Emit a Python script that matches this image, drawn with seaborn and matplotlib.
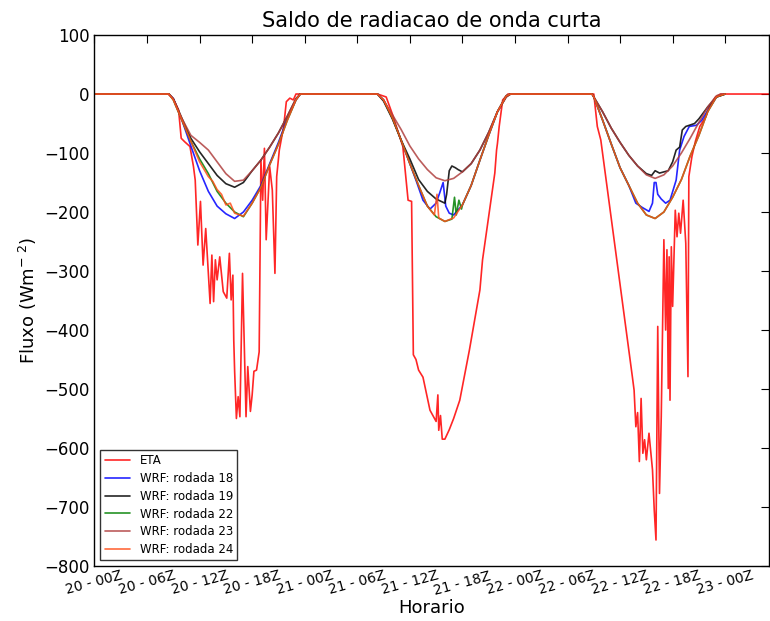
import matplotlib
matplotlib.use("Agg")
import matplotlib.pyplot as plt
import seaborn as sns
import pandas as pd

# ---------------- data (hours since 20-00Z, W/m2) ----------------
tick_hours = [0, 6, 12, 18, 24, 30, 36, 42, 48, 54, 60, 66, 72]
tick_labels = ['20 - 00Z', '20 - 06Z', '20 - 12Z', '20 - 18Z', '21 - 00Z', '21 - 06Z',
               '21 - 12Z', '21 - 18Z', '22 - 00Z', '22 - 06Z', '22 - 12Z', '22 - 18Z',
               '23 - 00Z']

eta_h = [0, 8.4, 9.0, 9.6, 9.9, 10.3, 10.9, 11.3, 11.5, 11.8, 12.1, 12.4, 12.7, 13.2, 13.4,
         13.6, 13.8, 14.0, 14.3, 14.7, 15.1, 15.4, 15.6, 15.8, 15.9, 16.0, 16.2, 16.4, 16.6,
         16.9, 17.3, 17.5, 17.8, 18.0, 18.2, 18.5, 18.8, 19.0, 19.2, 19.4, 19.6, 20.0, 20.3,
         20.6, 20.8, 21.1, 21.6, 21.9, 22.3, 22.7, 23.0,
         32.3, 33.3, 34.1, 35.2, 35.8, 36.2, 36.4, 36.7, 37.0, 37.5, 38.3, 39.0, 39.2, 39.3,
         39.5, 39.7, 40.0, 40.5, 41.0, 41.7, 42.8, 44.0, 44.3, 45.1, 45.7, 45.9, 46.0, 46.2,
         46.6, 47.2,
         57.0, 57.4, 57.8, 61.4, 61.6, 61.8, 62.0, 62.2, 62.4, 62.6, 62.8, 63.0, 63.3, 63.7,
         63.9, 64.1, 64.3, 64.5, 64.7, 65.0, 65.2, 65.35, 65.5, 65.6, 65.7, 65.85, 66.0, 66.3,
         66.5, 66.7, 66.9, 67.2, 67.5, 67.75, 67.85, 68.2, 68.6, 69.1, 69.8, 70.2, 70.9, 71.5,
         77.0]
eta_v = [0, 0, -8, -27, -75, -81, -89, -123, -146, -256, -182, -290, -228, -355, -273,
         -352, -281, -315, -276, -335, -346, -270, -349, -307, -417, -470, -550, -513, -547,
         -304, -547, -462, -538, -510, -470, -468, -437, -112, -180, -92, -247, -123, -163,
         -304, -140, -95, -55, -13, -7, -10, 0,
         0, -5, -38, -89, -180, -182, -442, -450, -468, -480, -536, -555, -510, -570,
         -545, -585, -585, -569, -550, -519, -434, -332, -281, -197, -134, -95, -84, -55,
         -10, 0,
         0, -55, -78, -479, -502, -564, -540, -623, -516, -609, -586, -620, -575, -637,
         -705, -756, -394, -677, -547, -247, -400, -264, -499, -276, -519, -259, -360, -197,
         -242, -202, -236, -180, -253, -479, -140, -106, -80, -55, -38, -21, -5, 0,
         0]

r18_h = [0, 8.5, 9, 10, 11, 12, 13, 14, 15, 16, 17, 18, 19, 20, 21, 22, 23, 23.5,
         32.3, 33, 34, 35, 36, 36.7, 37.5, 38.3, 39.0, 39.4, 39.8, 40.1, 40.5, 41, 42, 43, 44,
         45, 46, 47, 47.5,
         56.8, 57, 58, 59, 60, 61, 61.8, 62.5, 63.3, 63.7, 63.9, 64.1, 64.3, 64.7, 65.2, 65.7,
         66.4, 66.8, 67.3, 67.9, 68.7, 69.3, 70, 71, 72]
r18_v = [0, 0, -8, -45, -88, -130, -165, -190, -203, -211, -200, -180, -155, -118, -82, -42,
         -10, 0,
         0, -10, -40, -78, -118, -146, -180, -195, -185, -168, -150, -190, -202, -205, -188,
         -155, -112, -70, -30, -3, 0,
         0, -5, -44, -85, -125, -155, -185, -192, -199, -185, -150, -150, -170, -178, -185,
         -180, -146, -95, -72, -55, -53, -45, -28, -5, 0]

r19_h = [0, 8.5, 9, 10, 11, 12, 13, 14, 15, 16, 17, 18, 19, 20, 21, 22, 23, 23.5,
         32.3, 33, 34, 35, 36, 37, 38, 39, 40, 40.2, 40.5, 40.8, 41.2, 41.5, 42, 43, 44, 45,
         46, 47, 47.5,
         56.8, 57, 58, 59, 60, 61, 62, 63, 63.6, 64, 64.5, 65, 65.5, 66, 66.4, 66.8, 67.1,
         67.5, 68.5, 69, 70, 71, 72]
r19_v = [0, 0, -8, -42, -75, -98, -118, -138, -152, -158, -150, -130, -112, -90, -66, -38,
         -8, 0,
         0, -12, -42, -78, -110, -145, -165, -178, -185, -170, -130, -122, -125, -128, -132,
         -118, -95, -65, -30, -5, 0,
         0, -5, -30, -58, -82, -104, -122, -135, -138, -130, -134, -132, -130, -115, -95,
         -90, -61, -55, -50, -42, -22, -5, 0]

r22_h = [0, 8.5, 9, 10, 11, 12, 13, 14, 15, 16, 17, 18, 19, 20, 21, 22, 23, 23.5,
         32.3, 33, 34, 35, 36, 37, 38, 39, 40, 40.8, 41.1, 41.3, 41.6, 41.9, 42, 43, 44, 45,
         46, 47, 47.5,
         56.8, 57, 58, 59, 60, 61, 62, 63, 64, 65, 66, 67, 68, 69, 70, 71, 72]
r22_v = [0, 0, -10, -45, -80, -110, -135, -165, -185, -200, -208, -185, -158, -120, -85,
         -45, -10, 0,
         0, -10, -40, -78, -118, -155, -190, -208, -216, -212, -175, -205, -180, -195, -188,
         -155, -112, -70, -30, -3, 0,
         0, -5, -44, -85, -125, -155, -185, -205, -211, -200, -175, -145, -105, -70, -30,
         -5, 0]

r23_h = [0, 8.5, 9, 10, 11, 12, 13, 14, 15, 16, 17, 18, 19, 20, 21, 22, 23, 23.5,
         32.3, 33, 34, 35, 36, 37, 38, 39, 40, 41, 42, 43, 44, 45, 46, 47, 47.5,
         56.8, 57, 58, 59, 60, 61, 62, 63, 64, 65, 66, 67, 68, 69, 70, 71, 71.5, 72]
r23_v = [0, 0, -8, -42, -70, -82, -95, -115, -135, -148, -146, -130, -112, -90, -66, -38,
         -8, 0,
         0, -10, -35, -60, -88, -110, -128, -142, -147, -143, -132, -118, -95, -65, -30, -5,
         0,
         0, -5, -30, -58, -82, -104, -122, -137, -143, -137, -122, -100, -75, -48, -22, -3,
         0, 0]

r24_h = [0, 8.5, 9, 10, 11, 12, 13, 13.5, 14, 14.5, 15, 15.5, 16, 17, 18, 19, 20, 21, 22,
         23, 23.5,
         32.3, 33, 34, 35, 36, 37, 38, 38.8, 39.1, 39.3, 40, 41, 42, 43, 44, 45, 46, 47, 47.5,
         56.8, 57, 58, 59, 60, 61, 62, 63, 64, 65, 66, 67, 68, 69, 70, 71, 72]
r24_v = [0, 0, -10, -45, -80, -115, -140, -148, -162, -170, -188, -185, -202, -207, -185,
         -158, -120, -85, -45, -10, 0,
         0, -10, -40, -78, -118, -155, -190, -205, -170, -210, -216, -210, -188, -155, -112,
         -70, -30, -3, 0,
         0, -5, -44, -85, -125, -155, -185, -205, -211, -200, -175, -145, -105, -70, -30,
         -5, 0]

series = [
    ('ETA', eta_h, eta_v, '#ff0000'),
    ('WRF: rodada 18', r18_h, r18_v, '#0000ff'),
    ('WRF: rodada 19', r19_h, r19_v, '#000000'),
    ('WRF: rodada 22', r22_h, r22_v, '#007f00'),
    ('WRF: rodada 23', r23_h, r23_v, '#b0403f'),
    ('WRF: rodada 24', r24_h, r24_v, '#ff4f1a'),
]

# ---------------- plot ----------------
sns.set_style("white")
plt.rcParams['font.family'] = ['DejaVu Sans']
plt.rcParams['xtick.direction'] = 'in'
plt.rcParams['ytick.direction'] = 'in'
plt.rcParams['text.color'] = 'black'
plt.rcParams['axes.labelcolor'] = 'black'
plt.rcParams['xtick.color'] = 'black'
plt.rcParams['ytick.color'] = 'black'

fig = plt.figure(figsize=(7.7, 6.21), dpi=100)
ax = fig.add_axes([0.1227, 0.0886, 0.8760, 0.855])

for name, hs, vs, col in series:
    df = pd.DataFrame({'h': hs, 'v': vs})
    sns.lineplot(data=df, x='h', y='v', color=col, label=name, ax=ax,
                 estimator=None, sort=False, lw=1.2, alpha=0.85)

ax.set_xlim(0, 77)
ax.set_ylim(-800, 100)
ax.set_yticks([100, 0, -100, -200, -300, -400, -500, -600, -700, -800])
ax.set_xticks(tick_hours)
ax.set_xticklabels(tick_labels, rotation=15, fontsize=10)
ax.tick_params(axis='y', labelsize=12)
ax.tick_params(axis='x', pad=2)
ax.tick_params(which='both', direction='in', top=True, right=True, length=6,
               color='black', width=0.8)
for s in ax.spines.values():
    s.set_color('black')
    s.set_linewidth(1.0)

ax.set_title('Saldo de radiacao de onda curta', fontsize=15, color='black')
ax.set_xlabel('Horario', fontsize=13, labelpad=1, color='black')
ax.set_ylabel(r'Fluxo (Wm$^{-\ 2}$)', fontsize=13, color='black')

leg = ax.legend(loc='lower left', fontsize=8.5, frameon=True, fancybox=False,
                handlelength=2.2, borderpad=0.35, labelspacing=0.4)
leg.get_frame().set_edgecolor('black')
leg.get_frame().set_linewidth(1.0)
for t in leg.get_texts():
    t.set_color('black')

fig.savefig('out.png', dpi=100)
